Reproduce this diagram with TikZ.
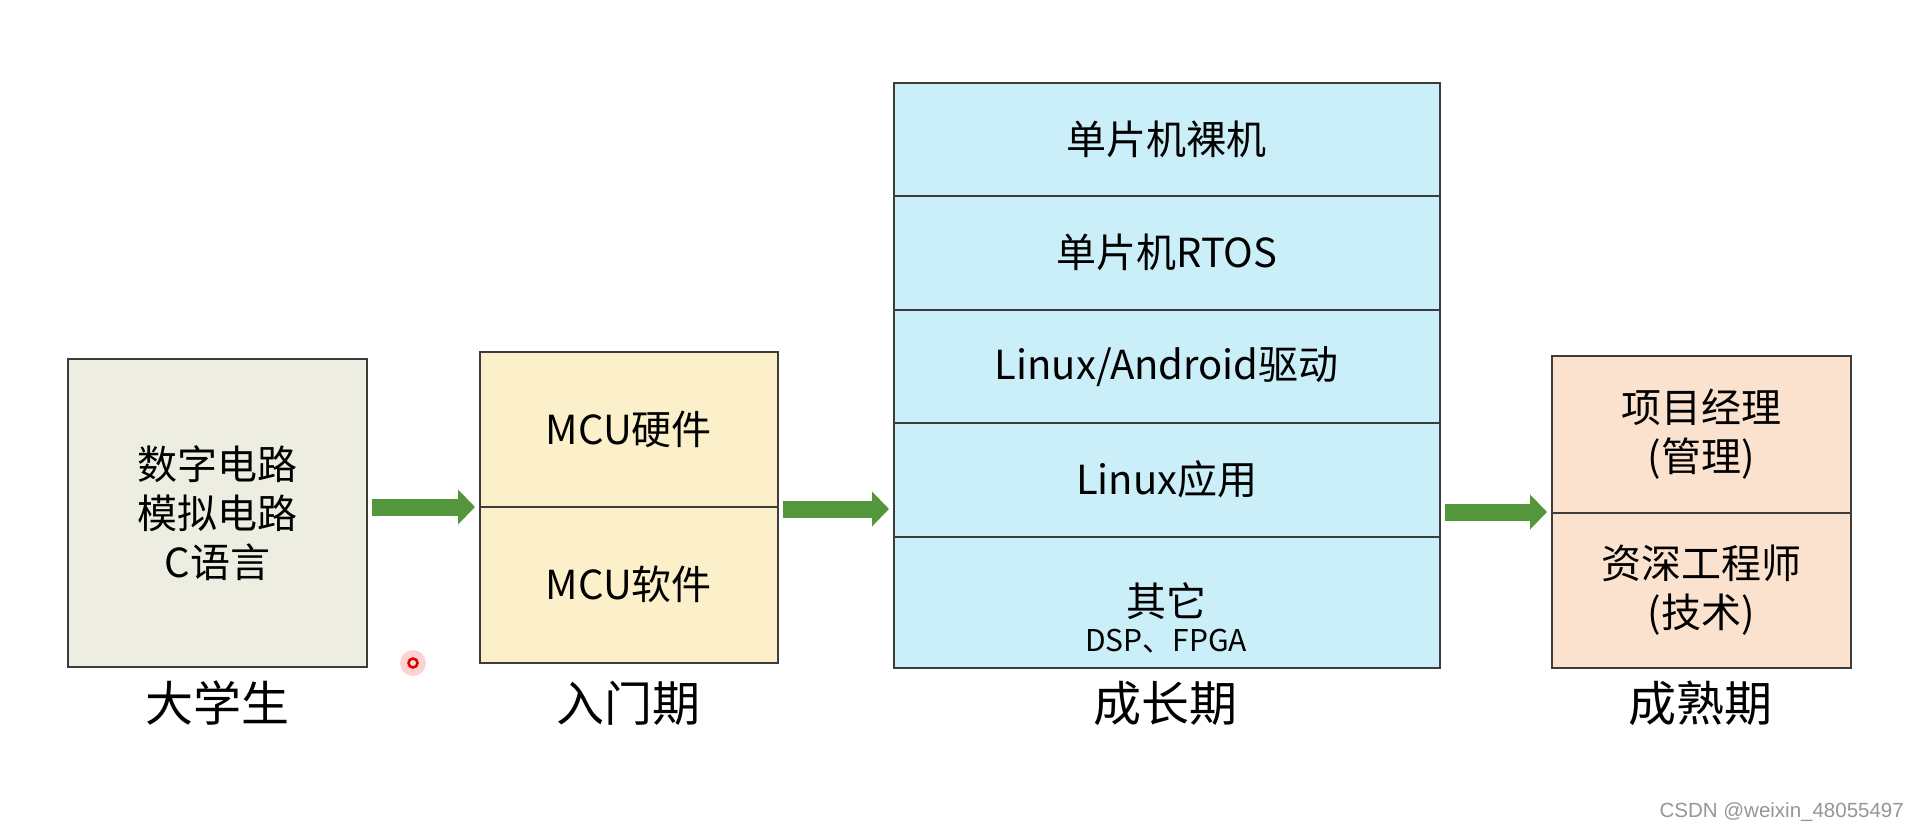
\documentclass[tikz,border=0pt]{standalone}
\usepackage{fontspec}
\setmainfont{Noto Sans CJK SC}
\newfontfamily\wmfont{Liberation Sans}
\usetikzlibrary{arrows.meta}
\definecolor{edgecol}{RGB}{60,60,60}
\definecolor{cA}{RGB}{237,237,226}
\definecolor{cB}{RGB}{251,240,201}
\definecolor{cC}{RGB}{202,239,248}
\definecolor{cD}{RGB}{251,226,207}
\definecolor{grn}{RGB}{84,150,60}
\definecolor{wmcol}{RGB}{150,150,150}
\begin{document}
\begin{tikzpicture}[x=1pt,y=-1pt,
  cell/.style={draw=edgecol, line width=1.5pt, inner sep=0pt, align=center,
    anchor=north west, font=\fontsize{40}{49}\selectfont},
  cellc/.style={cell, fill=cC, minimum width=546pt},
  stage/.style={font=\fontsize{48}{58}\selectfont},
  flow/.style={draw=grn, line width=17pt, -{Triangle[length=17pt,width=34pt]},
    shorten <=4pt, shorten >=4pt}
]
\useasboundingbox (0,0) rectangle (1920,830);
\fill[white] (0,0) rectangle (1920,830);

% stage 1
\node[cell, fill=cA, minimum width=299pt, minimum height=308pt] (s1) at (67,358)
  {数字电路\\模拟电路\\C语言};
% stage 2
\node[cell, fill=cB, minimum width=298pt, minimum height=155pt] (s2a) at (479,351) {MCU硬件};
\node[cell, fill=cB, minimum width=298pt, minimum height=156pt] (s2b) at (479,506) {MCU软件};
% stage 3
\node[cellc, minimum height=113pt] (s3a) at (893,82) {单片机裸机};
\node[cellc, minimum height=114pt] (s3b) at (893,195) {单片机RTOS};
\node[cellc, minimum height=113pt] (s3c) at (893,309) {Linux/Android驱动};
\node[cellc, minimum height=114pt] (s3d) at (893,422) {Linux应用};
\node[cellc, minimum height=131pt] (s3e) at (893,536) {};
\node[inner sep=0pt, font=\fontsize{40}{44}\selectfont] (s3e1) at (1166,601) {其它};
\node[inner sep=0pt, font=\fontsize{30}{34}\selectfont] (s3e2) at (1166,641) {DSP、FPGA};
% stage 4
\node[cell, fill=cD, minimum width=299pt, minimum height=157pt] (s4a) at (1551,355) {项目经理\\(管理)};
\node[cell, fill=cD, minimum width=299pt, minimum height=155pt] (s4b) at (1551,512) {资深工程师\\(技术)};

% stage labels
\node[stage] (l1) at (217,703) {大学生};
\node[stage] (l2) at (628,703) {入门期};
\node[stage] (l3) at (1165,703) {成长期};
\node[stage] (l4) at (1700,703) {成熟期};

% arrows
\draw[flow] (s1.east |- 0,507) -- (s2a.west |- 0,507);
\draw[flow] (s2b.north east) ++(0,3) coordinate (a2) (a2) -- (a2 -| s3d.west);
\draw[flow] (s3e.north east |- s4b.north west) -- (s4b.north west);

% pointer dot
\fill[red!40, opacity=0.45] (413,663) circle (13);
\draw[red!85!black, line width=2.5pt, fill=red!15] (413,663) circle (4.5);

% watermark
\node[anchor=east, text=wmcol, font=\wmfont\fontsize{20.5}{22}\selectfont, inner sep=0pt] (wm) at (1904,812)
  {CSDN @weixin\_48055497};
\end{tikzpicture}
\end{document}
